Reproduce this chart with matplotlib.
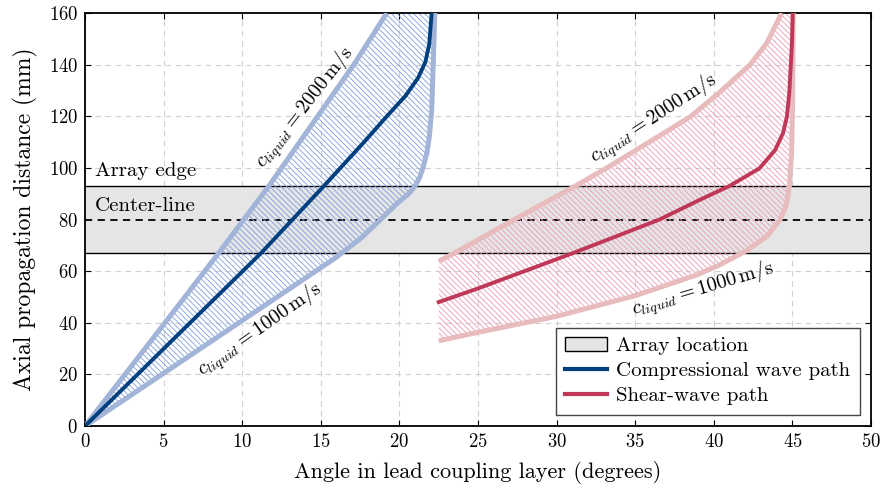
import numpy as np
import matplotlib
matplotlib.use('Agg')
import matplotlib.pyplot as plt
from matplotlib.patches import Patch
from matplotlib.lines import Line2D

plt.rcParams['font.family'] = 'serif'
plt.rcParams['font.serif'] = ['cmr10']
plt.rcParams['mathtext.fontset'] = 'cm'
plt.rcParams['axes.unicode_minus'] = False
plt.rcParams['axes.formatter.use_mathtext'] = True
plt.rcParams['hatch.linewidth'] = 0.6

# Array band (mm)
array_low = 67
array_high = 93
array_mid = 80

# Compressional wave, main path (angle, distance)
comp_x = [0, 11.2, 13.2, 15.2, 16.25, 17.75, 19.2, 20.4, 21.2, 21.65, 21.9, 22.05]
comp_y = [0, 67, 80, 93, 100, 110, 120, 128, 135, 141, 148, 160]
# c_liquid = 2000 m/s boundary
comp_hi_x = [0, 4.2, 8.5, 11.7, 14.8, 17.1, 19.2]
comp_hi_y = [0, 33, 67, 93, 120, 140, 160]
# c_liquid = 1000 m/s boundary
comp_lo_x = [0, 8.2, 15.9, 17.6, 18.8, 19.9, 20.6, 21.0, 21.3, 21.5, 21.75, 21.9, 22.05, 22.15, 22.25]
comp_lo_y = [0, 33.5, 65, 73, 80, 86.5, 90, 93, 96.5, 100, 106, 112, 122, 140, 160]

# Shear wave, main path
shear_x = [22.5, 25.0, 31.05, 36.55, 39.1, 41.0, 42.9, 43.9, 44.4, 44.65, 44.8, 44.9, 44.97, 45.02]
shear_y = [48, 53.3, 67, 80, 87.6, 93, 99.8, 106.9, 113.4, 119.8, 128.9, 140, 148.3, 160]
# c_liquid = 2000 m/s boundary
shear_hi_x = [22.5, 23.5, 27.25, 31.2, 33.2, 36.8, 38.5, 40.3, 42.3, 43.36, 44.32]
shear_hi_y = [63.8, 67, 79.8, 93, 100, 113.4, 119.8, 128.9, 139.9, 148.3, 160]
# c_liquid = 1000 m/s boundary
shear_lo_x = [22.5, 25.0, 30.0, 35.0, 38.9, 40.4, 42.1, 43.36, 44.2, 44.6, 44.81, 44.95, 45.02, 45.05]
shear_lo_y = [33.0, 36.3, 42.5, 50.5, 58.5, 62.5, 68, 73.4, 79.8, 85.3, 93, 106, 128, 160]

dark_blue = '#003f7d'
light_blue = '#a2b4d8'
hatch_blue = '#7d9ee0'
dark_red = '#bf3858'
light_red = '#e8bcbc'
hatch_red = '#ec9ab8'

fig = plt.figure(figsize=(8.84, 4.91), dpi=100)
ax = fig.add_axes([0.0962, 0.1324, 0.8891, 0.8411])
ax.set_axisbelow(True)
ax.grid(True, color='#d0d0d0', linestyle=(0, (5, 4)), linewidth=0.8)

ax.axhspan(array_low, array_high, facecolor='#e5e5e5', edgecolor='none', zorder=1)
ax.axhline(array_low, color='black', lw=1.0, zorder=1.5)
ax.axhline(array_high, color='black', lw=1.0, zorder=1.5)
ax.axhline(array_mid, color='black', lw=1.3, linestyle=(0, (4, 3)), zorder=1.5)
ax.text(0.65, 95.3, 'Array edge', fontsize=15, va='bottom', ha='left', zorder=3)
ax.text(0.65, 81.8, 'Center-line', fontsize=15, va='bottom', ha='left', zorder=3)

# hatched regions
ax.fill(np.concatenate([comp_hi_x, comp_lo_x[::-1]]),
        np.concatenate([comp_hi_y, comp_lo_y[::-1]]),
        facecolor='none', edgecolor=hatch_blue, hatch='\\\\\\\\\\\\', lw=0, zorder=2)
ax.fill(np.concatenate([shear_hi_x, shear_lo_x[::-1]]),
        np.concatenate([shear_hi_y, shear_lo_y[::-1]]),
        facecolor='none', edgecolor=hatch_red, hatch='\\\\\\\\\\\\', lw=0, zorder=2)

for xs, ys, c in [(comp_hi_x, comp_hi_y, light_blue), (comp_lo_x, comp_lo_y, light_blue),
                  (shear_hi_x, shear_hi_y, light_red), (shear_lo_x, shear_lo_y, light_red)]:
    ax.plot(xs, ys, color=c, lw=3.6, zorder=3, solid_capstyle='butt', solid_joinstyle='round')
ax.plot(comp_x, comp_y, color=dark_blue, lw=2.8, zorder=4, solid_joinstyle='round')
ax.plot(shear_x, shear_y, color=dark_red, lw=2.8, zorder=4, solid_joinstyle='round')

lab2000 = r'$c_{liquid} = 2000\,\mathrm{m/s}$'
lab1000 = r'$c_{liquid} = 1000\,\mathrm{m/s}$'
ax.text(14.0, 123.5, lab2000, rotation=52, fontsize=14.5, ha='center', va='center', zorder=5)
ax.text(11.1, 37.3, lab1000, rotation=35, fontsize=14.5, ha='center', va='center', zorder=5)
ax.text(36.15, 119, lab2000, rotation=33, fontsize=14.5, ha='center', va='center', zorder=5)
ax.text(39.3, 53.0, lab1000, rotation=16.5, fontsize=14.5, ha='center', va='center', zorder=5)

ax.set_xlim(0, 50)
ax.set_ylim(0, 160)
ax.set_xticks(np.arange(0, 51, 5))
ax.set_yticks(np.arange(0, 161, 20))
ax.tick_params(direction='in', top=True, right=True, labelsize=13.5, length=4.5, width=0.8, pad=5)
for s in ax.spines.values():
    s.set_linewidth(1.3)
ax.set_xlabel('Angle in lead coupling layer (degrees)', fontsize=16, labelpad=7)
ax.set_ylabel('Axial propagation distance (mm)', fontsize=17, labelpad=8)

handles = [Patch(facecolor='#e5e5e5', edgecolor='black', lw=1.0, label='Array location'),
           Line2D([], [], color=dark_blue, lw=3, label='Compressional wave path'),
           Line2D([], [], color=dark_red, lw=3, label='Shear-wave path')]
leg = ax.legend(handles=handles, loc='lower right', fontsize=15, fancybox=False,
                edgecolor='#444444', framealpha=1, borderaxespad=0.55, borderpad=0.45,
                handlelength=2.0, handletextpad=0.45, labelspacing=0.3)
leg.get_frame().set_linewidth(1.0)
leg.set_zorder(6)

fig.savefig('out.png', dpi=100)
